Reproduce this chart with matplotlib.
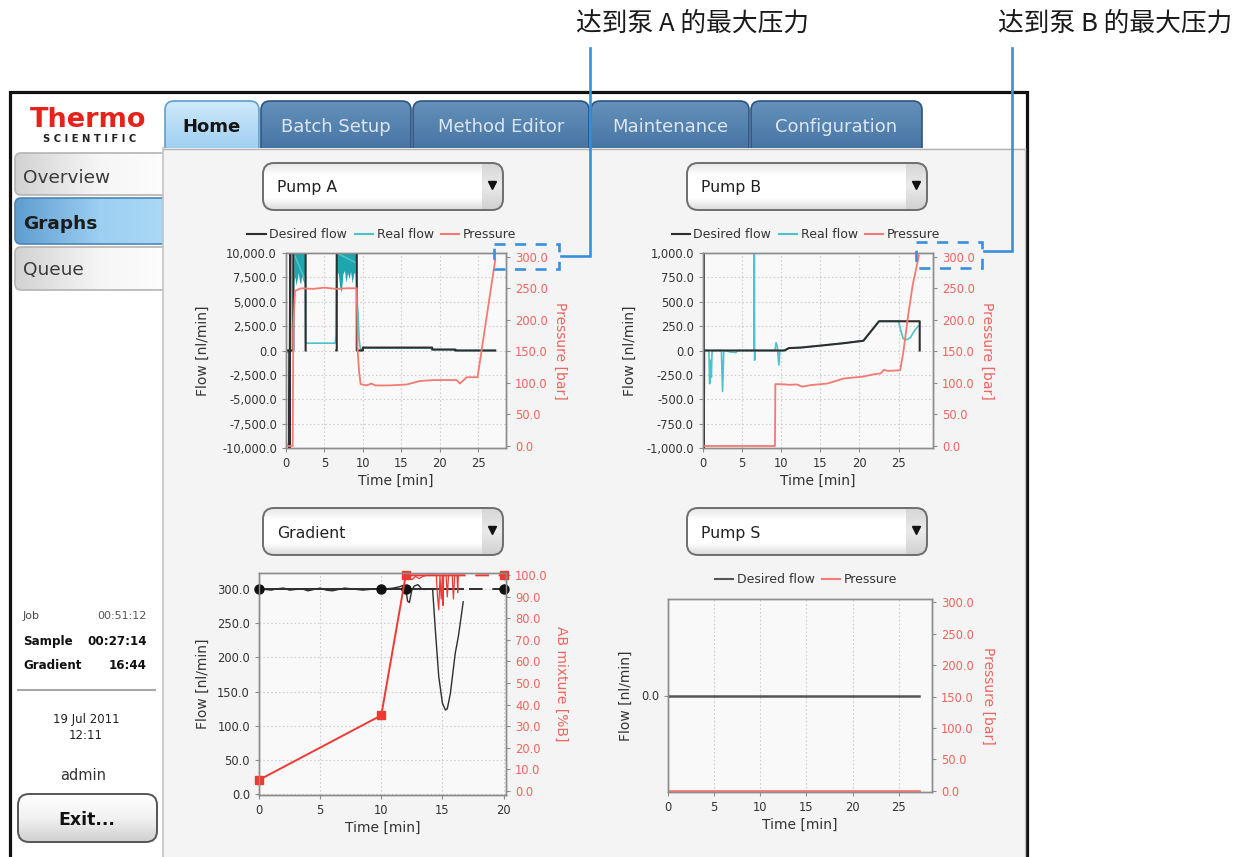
import numpy as np
import matplotlib
matplotlib.use("Agg")
import matplotlib.pyplot as plt
from matplotlib.patches import FancyBboxPatch, Rectangle
from matplotlib.colors import LinearSegmentedColormap
from matplotlib.lines import Line2D
from matplotlib.ticker import FuncFormatter, MultipleLocator, FixedLocator

W, H = 1241, 857

# ---------------- values ----------------
# Pump A (nan = no desired-flow trace in that stretch)
a_des_t = [0, 0.45, 0.45, 0.55, 0.55, 0.95, 0.95, 2.55, 2.55, 2.6, 6.55, 6.55, 6.6, 6.6,
           9.2, 9.2, 10.0, 10.0, 19.0, 19.0, 22.0, 22.0, 27.2]
a_des_v = [0, 0, -10000, 10000, 0, 0, 10000, 10000, 0, np.nan, np.nan, 0, 0, 10000,
           10000, 0, 0, 300, 300, 100, 100, 0, 0]
a_real_t = [0, 0.4, 0.95, 1.0, 2.5, 2.55, 2.65, 6.4, 6.5, 6.6, 9.1, 9.25, 9.35, 9.5, 9.7,
            10.0, 19.0, 19.1, 22.0, 22.1, 27.2]
a_real_v = [-200, -150, 0, 10000, 7200, 900, 750, 750, 1600, 10000, 9000, 5000, 4000, 1200, 0,
            250, 250, 80, 80, 0, 0]
a_band1_t = [1.0, 1.15, 1.3, 1.45, 1.6, 1.75, 1.9, 2.05, 2.2, 2.35, 2.5]
a_band1_lo = [6900, 7600, 6700, 7300, 8000, 7100, 6800, 7700, 7200, 6900, 7400]
a_band2_t = [6.6, 6.8, 7.0, 7.2, 7.4, 7.6, 7.8, 8.0, 8.2, 8.4, 8.6, 8.8, 9.0, 9.1]
a_band2_lo = [8100, 7900, 6400, 6000, 7900, 8200, 7000, 8000, 7400, 8100, 6900, 7900, 8000, 8200]
a_pres_t = [0, 0.15, 0.87, 0.95, 1.17, 2.0, 3.5, 5.0, 6.5, 8.0, 9.2, 9.3, 9.5, 9.7, 10.5, 11.1,
            11.6, 13.5, 15.7, 17.4, 19.2, 22.2, 22.6, 23.5, 24.9, 27.2]
a_pres_v = [8, 0, 0, 188, 246, 250, 249, 251, 249, 250, 250, 155, 118, 98, 96, 99,
            96, 96, 97.5, 103, 104.5, 104.5, 99, 109, 109, 295]

# Pump B
b_des_t = [0.1, 0.1, 0.15, 10.4, 11.0, 12.5, 15.0, 18.0, 20.5, 22.5, 27.7, 27.7]
b_des_v = [1000, -1000, 0, 0, 25, 30, 50, 75, 100, 300, 300, 0]
b_real_t = [0, 0.75, 0.85, 0.95, 1.0, 1.07, 1.15, 1.3, 2.35, 2.5, 2.65, 2.8, 3.5, 4.2, 4.5,
            6.5, 6.56, 6.6, 6.65, 9.2, 9.34, 9.5, 9.7, 9.8, 9.9, 10.4, 11.0, 12.5, 15.0, 18.0,
            20.5, 22.5, 25.0, 25.3, 25.6, 26.0, 26.5, 27.0, 27.5]
b_real_v = [0, 0, -340, -100, -150, -276, -20, 0, 0, -420, -10, 0, -15, -20, 0,
            0, 1050, -100, 0, 0, 80, 40, -150, -20, 0, 0, 25, 30, 50, 75,
            100, 300, 300, 200, 120, 110, 130, 200, 250]
b_pres_t = [0, 9.2, 9.25, 10, 11, 12, 12.7, 13.7, 15.9, 18, 20.5, 21.8, 22.7, 23.1, 23.7,
            25.2, 25.6, 26.2, 26.8, 27.6]
b_pres_v = [0, 0, 98, 98, 97, 97.5, 94, 96.4, 99, 107, 110, 113.6, 115, 120.5, 119,
            120, 148, 205, 255, 302]

# Gradient
g_prog_t = [0, 10, 12, 20]
g_prog_flow = [300, 300, 300, 300]
g_prog_b = [5, 35, 100, 100]
g_now = 16 + 44 / 60          # "Gradient 16:44"
g_flow_t = [0, 0.5, 1, 1.5, 2, 2.5, 3, 3.5, 4, 4.5, 5, 5.5, 6, 6.5, 7, 7.5, 8, 8.5, 9, 9.5,
            10, 10.5, 11, 11.5, 11.8, 12, 12.15, 12.3, 12.5, 12.7, 13, 13.3, 13.6, 14.0, 14.2,
            14.4, 14.7, 15.0, 15.25, 15.4, 15.65, 16.05, 16.3, 16.5, 16.7]
g_flow_v = [300, 299, 298, 300, 301, 298, 299, 300, 297, 299, 301, 298, 297, 299, 301, 300,
            299, 298, 299, 300, 299, 300, 301, 303, 305, 300, 282, 280, 298, 304, 306, 300,
            299, 300, 299, 245, 172, 133, 123, 125, 147, 206, 230, 255, 281]
g_b_t = [12.0, 12.3, 12.5, 12.8, 13.1, 13.4, 13.7, 14.0, 14.5, 14.6, 14.7, 14.8, 14.9, 15.0,
         15.05, 15.1, 15.3, 15.4, 15.5, 15.8, 15.9, 16.0, 16.2, 16.25, 16.3, 16.7]
g_b_v = [100, 99, 98, 99.5, 98.5, 99.5, 100, 100, 100, 90, 84, 100, 89, 100,
         86, 100, 100, 90, 100, 100, 89, 100, 100, 92, 100, 100]

# Pump S
s_t = [0, 27.2]
s_des_v = [0, 0]
s_pres_v = [0, 0]

BLACK = "#2e2e2e"
CYAN = "#4cc3cb"
TEAL = "#1fa5ae"
PRES = "#f47a72"
GRED = "#ee3a35"
RTICK = "#f0645e"
TXT = "#333333"
BLUE = "#3a8ede"

plt.rcParams["font.family"] = ["DejaVu Sans"]

fig = plt.figure(figsize=(W / 100, H / 100), dpi=100)
fig.patch.set_facecolor("white")

bg = fig.add_axes([0, 0, 1, 1], zorder=-5)
bg.axis("off")


def shade(patch, colors, horizontal=False, z=2):
    bg.add_patch(patch)
    patch.set_zorder(z + 0.05)
    x0, y0 = patch.get_x(), patch.get_y()
    w, h = patch.get_width(), patch.get_height()
    ramp = np.linspace(0, 1, 256)
    img = ramp[None, :] if horizontal else ramp[:, None]
    cmap = LinearSegmentedColormap.from_list("ramp", colors)
    im = bg.imshow(img, cmap=cmap, extent=(x0, x0 + w, y0 + h, y0), origin="upper",
                   aspect="auto", interpolation="bilinear", zorder=z)
    im.set_clip_path(patch)
    return im


# screen frame
bg.add_patch(Rectangle((9.5, 91.5), 1017, 800, fc="white", ec="#111111", lw=2.3, zorder=1))

# tabs
tabs = [("Home", 165, 259), ("Batch Setup", 261, 411), ("Method Editor", 413, 589),
        ("Maintenance", 591, 749), ("Configuration", 751, 922)]
for name, x0, x1 in tabs:
    home = name == "Home"
    p = FancyBboxPatch((x0, 101), x1 - x0, 60, boxstyle="round,pad=0,rounding_size=9",
                       fc="none", ec="#5e9fcc" if home else "#2b5580", lw=1.2)
    shade(p, ["#cfe9fb", "#93c9ee"] if home else ["#6591bb", "#3f6d9c"], z=2)
    bg.text((x0 + x1) / 2, 132, name, ha="center", va="baseline", fontsize=13,
            color="#151515" if home else "#dce6ef", weight="bold" if home else "normal", zorder=3)

# main panel
bg.add_patch(Rectangle((163, 148), 862, 720, fc="#f4f4f4", ec="none", zorder=3))
bg.plot([163, 1025], [148.5, 148.5], color="#b3b3b3", lw=1, zorder=3.5)
bg.plot([162.5, 162.5], [148, 857], color="#c4c4c4", lw=1.2, zorder=3.5)
bg.plot([1024.5, 1024.5], [148, 857], color="#c8c8c8", lw=1, zorder=3.5)

# logo
bg.text(88.5, 127, "Thermo", ha="center", va="baseline", fontsize=19.5, weight="bold",
        color="#e5231b", zorder=3)
bg.text(90, 142, "S C I E N T I F I C", ha="center", va="baseline", fontsize=7.2,
        weight="bold", color="#222222", zorder=3)

# side buttons
side = [("Overview", 153, 42, 183), ("Graphs", 198, 46, 229), ("Queue", 247, 43, 275)]
for name, y0, h, base in side:
    sel = name == "Graphs"
    p = FancyBboxPatch((15, y0), 170, h, boxstyle="round,pad=0,rounding_size=6",
                       fc="none", ec="#4c86b6" if sel else "#b4b4b4", lw=1.2)
    shade(p, ["#5f9dd0", "#9ccff2", "#b0dbf7"] if sel else ["#d2d2d2", "#f6f6f6", "#ffffff"],
          horizontal=True, z=2)
    bg.text(23, base, name, ha="left", va="baseline", fontsize=13.3,
            color="#1c1c1c" if sel else "#3a3a3a", weight="bold" if sel else "normal", zorder=3)

# status block
bg.text(23, 619, "Job", fontsize=7.8, color="#444444", va="baseline", zorder=3)
bg.text(147, 619, "00:51:12", fontsize=8, color="#555555", va="baseline", ha="right", zorder=3)
bg.text(23, 645, "Sample", fontsize=8.6, weight="bold", color="#111111", va="baseline", zorder=3)
bg.text(147, 645, "00:27:14", fontsize=8.6, weight="bold", color="#111111", va="baseline",
        ha="right", zorder=3)
bg.text(23, 669, "Gradient", fontsize=8.6, weight="bold", color="#111111", va="baseline", zorder=3)
bg.text(147, 669, "16:44", fontsize=8.6, weight="bold", color="#111111", va="baseline",
        ha="right", zorder=3)
bg.plot([18, 155], [689.5, 689.5], color="#a8a8a8", lw=1.5, zorder=3)
bg.text(86, 723, "19 Jul 2011", fontsize=8.5, color="#222222", va="baseline", ha="center", zorder=3)
bg.text(86, 739, "12:11", fontsize=8.5, color="#222222", va="baseline", ha="center", zorder=3)
bg.text(83, 780, "admin", fontsize=10.5, color="#333333", va="baseline", ha="center", zorder=3)
p = FancyBboxPatch((18, 794), 139, 48, boxstyle="round,pad=0,rounding_size=11",
                   fc="none", ec="#555555", lw=1.4)
shade(p, ["#ffffff", "#f2f2f2", "#cfcfcf"], z=2)
bg.text(87, 825, "Exit...", fontsize=12.5, weight="bold", color="#111111", va="baseline",
        ha="center", zorder=3)

# dropdowns
drops = [("Pump A", 263, 163, 192), ("Pump B", 687, 163, 192),
         ("Gradient", 263, 508, 538), ("Pump S", 687, 508, 538)]
for name, x0, y0, base in drops:
    p = FancyBboxPatch((x0, y0), 240, 47, boxstyle="round,pad=0,rounding_size=11",
                       fc="none", ec="#6e6e6e", lw=1.4)
    shade(p, ["#e6e6e6", "#ffffff", "#ffffff", "#ffffff", "#d9d9d9"], z=4)
    cap = Rectangle((x0 + 219, y0), 21, 47, fc="none", ec="none")
    bg.add_patch(cap)
    im = bg.imshow(np.linspace(0, 1, 64)[:, None],
                   cmap=LinearSegmentedColormap.from_list("cap", ["#d6d6d6", "#eaeaea", "#d0d0d0"]),
                   extent=(x0 + 219, x0 + 240, y0 + 47, y0), origin="upper", aspect="auto",
                   interpolation="bilinear", zorder=4.02)
    im.set_clip_path(p)
    bg.plot([x0 + 229], [y0 + 22], marker="v", ms=6, color="#111111", zorder=4.2)
    bg.text(x0 + 14, base, name, fontsize=11.3, color="#222222", va="baseline", zorder=4.2)

bg.set_xlim(0, W)
bg.set_ylim(H, 0)


# ---------------- charts ----------------
def px_axes(x0, y0, x1, y1):
    a = fig.add_axes([x0 / W, 1 - y1 / H, (x1 - x0) / W, (y1 - y0) / H])
    a.set_facecolor("#f9f9f9")
    return a


def style(ax, ax2, xmax, ylo, yhi, rlo, rhi, lstep, rstep, lfmt, rlabel, lpad, rpad):
    ax.set_xlim(0, xmax)
    ax.set_ylim(ylo, yhi)
    ax2.set_ylim(rlo, rhi)
    ax.xaxis.set_major_locator(MultipleLocator(5))
    if lstep is None:
        ax.yaxis.set_major_locator(FixedLocator([0]))
    else:
        ax.yaxis.set_major_locator(MultipleLocator(lstep))
    ax2.yaxis.set_major_locator(MultipleLocator(rstep))
    ax.yaxis.set_major_formatter(FuncFormatter(lfmt))
    ax2.yaxis.set_major_formatter(FuncFormatter(lambda v, p: f"{v:.1f}"))
    for a in (ax, ax2):
        for s in a.spines.values():
            s.set_color("#8c8c8c")
            s.set_linewidth(1)
    ax.tick_params(axis="both", direction="out", length=3, width=0.8, color="#8c8c8c",
                   labelsize=8.3, labelcolor=TXT)
    ax2.tick_params(axis="y", direction="out", length=3, width=0.8, color="#8c8c8c",
                    labelsize=8.3, labelcolor=RTICK)
    ax.set_xlabel("Time [min]", fontsize=10, color=TXT, labelpad=3)
    ax.set_ylabel("Flow [nl/min]", fontsize=10, color=TXT, labelpad=lpad)
    ax2.set_ylabel(rlabel, fontsize=10, color=RTICK, rotation=270, va="bottom", labelpad=rpad)
    ax.set_axisbelow(True)


def legend(ax2, handles, labels, xc, yc):
    leg = ax2.legend(handles, labels, loc="center", bbox_to_anchor=(xc, yc), ncol=len(labels),
                     frameon=False, fontsize=9, handlelength=1.45, handletextpad=0.3,
                     columnspacing=0.6, borderaxespad=0, borderpad=0)
    for t in leg.get_texts():
        t.set_color(TXT)


grid_kw = dict(color="#cfcfcf", linestyle=(0, (1.5, 2)), linewidth=0.8)
flow_fmt = lambda v, p: f"{v:,.1f}"

# Pump A
ax = px_axes(286, 253, 506, 448)
ax2 = ax.twinx()
ax.grid(True, **grid_kw)
ax.fill_between(a_band1_t, a_band1_lo, 10000, color=TEAL, lw=0, zorder=2)
ax.fill_between(a_band2_t, a_band2_lo, 10000, color=TEAL, lw=0, zorder=2)
ax.plot(a_real_t, a_real_v, color=CYAN, lw=1.2, zorder=3)
ax.plot(a_des_t, a_des_v, color=BLACK, lw=1.5, zorder=4)
ax2.plot(a_pres_t, a_pres_v, color=PRES, lw=1.3)
style(ax, ax2, 28.6, -10000, 10000, -3.2, 305.9, 2500, 50, flow_fmt, "Pressure [bar]", 9, 4)
legend(ax2, [Line2D([], [], color=BLACK, lw=1.5), Line2D([], [], color=CYAN, lw=1.5),
             Line2D([], [], color=PRES, lw=1.5)],
       ["Desired flow", "Real flow", "Pressure"], 0.436, 1.093)

# Pump B
ax = px_axes(703, 253, 933, 448)
ax2 = ax.twinx()
ax.grid(True, **grid_kw)
ax.plot(b_real_t, b_real_v, color=CYAN, lw=1.2, zorder=3)
ax.plot(b_des_t, b_des_v, color=BLACK, lw=1.5, zorder=4)
ax2.plot(b_pres_t, b_pres_v, color=PRES, lw=1.3)
style(ax, ax2, 29.4, -1000, 1000, -3.2, 305.9, 250, 50, flow_fmt, "Pressure [bar]", 7, 4)
legend(ax2, [Line2D([], [], color=BLACK, lw=1.5), Line2D([], [], color=CYAN, lw=1.5),
             Line2D([], [], color=PRES, lw=1.5)],
       ["Desired flow", "Real flow", "Pressure"], 0.448, 1.093)

# Gradient: programmed lines solid up to "now", dashed after
ax = px_axes(259, 573, 506, 795)
ax2 = ax.twinx()
ax.grid(True, **grid_kw)
ax.plot(g_flow_t, g_flow_v, color=BLACK, lw=1.0, zorder=3)
done = Rectangle((0, -1000), g_now, 5000, transform=ax.transData)
todo = Rectangle((g_now, -1000), 30, 5000, transform=ax.transData)
ln, = ax.plot(g_prog_t, g_prog_flow, color=BLACK, lw=1.4, zorder=4)
ln.set_clip_path(done)
ln, = ax.plot(g_prog_t, g_prog_flow, color=BLACK, lw=1.4, dashes=(7, 5), zorder=4)
ln.set_clip_path(todo)
ax.plot(g_prog_t, g_prog_flow, ls="none", marker="o", ms=6.5, color="#111111", zorder=5,
        clip_on=False)
ax2.plot(g_b_t, g_b_v, color=GRED, lw=0.9)
done2 = Rectangle((0, -50), g_now, 300, transform=ax2.transData)
todo2 = Rectangle((g_now, -50), 30, 300, transform=ax2.transData)
ln, = ax2.plot(g_prog_t, g_prog_b, color=GRED, lw=1.4)
ln.set_clip_path(done2)
ln, = ax2.plot(g_prog_t, g_prog_b, color=GRED, lw=1.4, dashes=(7, 5))
ln.set_clip_path(todo2)
ax2.plot(g_prog_t, g_prog_b, ls="none", marker="s", ms=6, color=GRED, clip_on=False)
style(ax, ax2, 20.2, -1, 323, -2.0, 101.1, 50, 10, flow_fmt, "AB mixture [%B]", 5.5, 5)

# Pump S
ax = px_axes(668, 599, 932, 792)
ax2 = ax.twinx()
ax.grid(True, axis="x", **grid_kw)
ax.plot(s_t, s_des_v, color="#555555", lw=1.8, zorder=3)
ax2.plot(s_t, s_pres_v, color=PRES, lw=2.0)
style(ax, ax2, 28.6, -1, 1, -2.1, 305.4, None, 50, lambda v, p: f"{v:.1f}", "Pressure [bar]", 6, 5)
legend(ax2, [Line2D([], [], color="#555555", lw=1.5), Line2D([], [], color=PRES, lw=1.5)],
       ["Desired flow", "Pressure"], 0.523, 1.1)

# ---------------- call-outs ----------------
ov = fig.add_axes([0, 0, 1, 1], zorder=20)
ov.patch.set_alpha(0)
ov.axis("off")
ov.set_xlim(0, W)
ov.set_ylim(H, 0)
cjk = ["Noto Sans CJK SC", "DejaVu Sans"]
ov.text(693, 31, "达到泵 A 的最大压力", family=cjk, fontsize=18.5, color="#1a1a1a",
        ha="center", va="baseline")
ov.text(1115, 31, "达到泵 B 的最大压力", family=cjk, fontsize=18.5, color="#1a1a1a",
        ha="center", va="baseline")
ov.plot([590, 590, 561], [48, 256, 256], color=BLUE, lw=1.9, solid_joinstyle="miter")
ov.add_patch(Rectangle((494, 244), 65, 25, fill=False, ec=BLUE, lw=1.9, ls=(0, (4.2, 3.6))))
ov.plot([1012, 1012, 984], [48, 251, 251], color=BLUE, lw=1.9, solid_joinstyle="miter")
ov.add_patch(Rectangle((916, 242), 66, 26, fill=False, ec=BLUE, lw=1.9, ls=(0, (4.2, 3.6))))

fig.savefig("out.png", dpi=100)
